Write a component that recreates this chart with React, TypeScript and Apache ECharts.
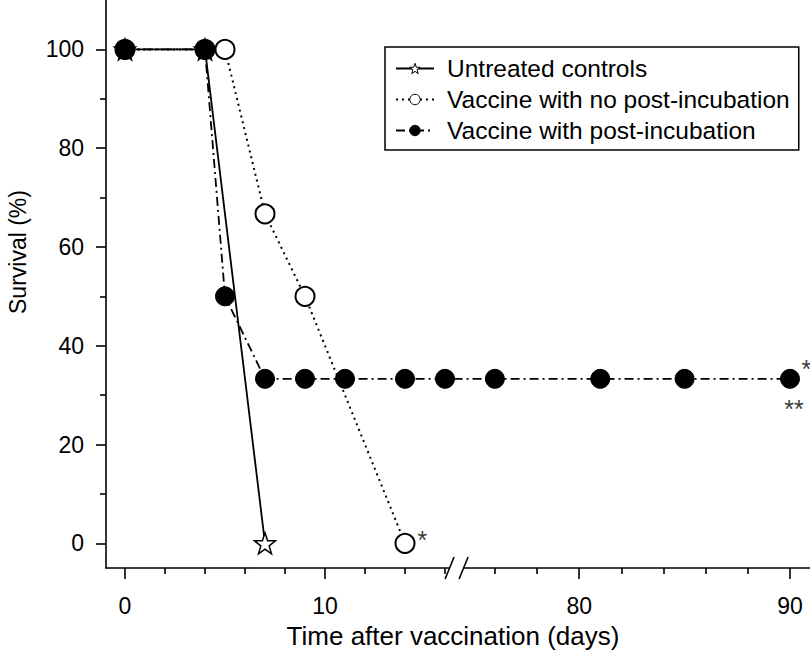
import React, { useEffect, useRef } from 'react';
import * as echarts from 'echarts';

const FONT = "'Liberation Sans', Arial, Helvetica, sans-serif";

const SERIES_NAMES = [
  'Untreated controls',
  'Vaccine with no post-incubation',
  'Vaccine with post-incubation',
];

// Days after vaccination and survival (%) per group
const untreatedDays = [0, 4, 7];
const untreatedSurvival = [100, 100, 0];

const noPostDays = [0, 4, 5, 7, 9, 14];
const noPostSurvival = [100, 100, 100, 66.7, 50, 0];

const postDays = [0, 4, 5, 7, 9, 11, 14, 16, 76, 81, 85, 90];
const postSurvival = [100, 100, 50, 33.3, 33.3, 33.3, 33.3, 33.3, 33.3, 33.3, 33.3, 33.3];

// Tick positions (days / %)
const xMajorTicks = [0, 10, 80, 90];
const xMinorTicks = [2, 4, 6, 8, 12, 14, 16, 76, 78, 82, 84, 86, 88];
const yMajorTicks = [0, 20, 40, 60, 80, 100];
const yMinorTicks = [10, 30, 50, 70, 90];

// Broken x axis: days 0..~16.5 then ~74..91 on one compressed scale
const RIGHT_ANCHOR_DAY = 90;
const RIGHT_ANCHOR_U = 33.25;
const RIGHT_SCALE = 1.054;
const toU = (d: number) => (d <= 30 ? d : RIGHT_ANCHOR_U - (RIGHT_ANCHOR_DAY - d) * RIGHT_SCALE);
const X_MIN = -0.95;
const X_MAX = 34.25;
const BREAK_U = 16.58;
const Y_MIN = -5;
const Y_MAX = 110;

const STAR =
  'path://M0,-1L0.235,-0.324L0.951,-0.309L0.380,0.124L0.588,0.809L0,0.4L-0.588,0.809L-0.380,0.124L-0.951,-0.309L-0.235,-0.324Z';

export default function App() {
  const ref = useRef<HTMLDivElement>(null);

  useEffect(() => {
    if (!ref.current) return;
    const chart = echarts.init(ref.current, null, { renderer: 'svg' });
    const pairs = (days: number[], vals: number[]) => days.map((d, i) => [toU(d), vals[i]]);
    const xLabel = (v: number) => {
      const d = xMajorTicks.find((t) => Math.abs(toU(t) - v) < 1e-6);
      return d === undefined ? '' : String(d);
    };
    const axisLine = { color: '#000', width: 1.6 };

    const option: any = {
      animation: false,
      textStyle: { fontFamily: FONT, color: '#000' },
      grid: { left: 106, right: 0, top: 0, bottom: 93 },
      xAxis: [
        {
          type: 'value',
          min: X_MIN,
          max: X_MAX,
          position: 'bottom',
          axisLine: { show: true, onZero: false, lineStyle: axisLine },
          axisTick: { show: true, customValues: xMajorTicks.map(toU), length: 11, lineStyle: axisLine },
          axisLabel: {
            show: true,
            customValues: xMajorTicks.map(toU),
            formatter: xLabel,
            margin: 26,
            fontSize: 23,
            color: '#000',
            fontFamily: FONT,
          },
          splitLine: { show: false },
          name: 'Time after vaccination (days)',
          nameLocation: 'middle',
          nameGap: 55,
          nameTextStyle: { fontSize: 26, color: '#000', fontFamily: FONT, padding: [0, 10, 0, 0] },
        },
        {
          type: 'value',
          min: X_MIN,
          max: X_MAX,
          position: 'bottom',
          axisLine: { show: false, onZero: false },
          axisTick: { show: true, customValues: xMinorTicks.map(toU), length: 6, lineStyle: axisLine },
          axisLabel: { show: false },
          splitLine: { show: false },
        },
      ],
      yAxis: [
        {
          type: 'value',
          min: Y_MIN,
          max: Y_MAX,
          position: 'left',
          axisLine: { show: true, onZero: false, lineStyle: axisLine },
          axisTick: { show: true, customValues: yMajorTicks, length: 10, lineStyle: axisLine },
          axisLabel: {
            show: true,
            customValues: yMajorTicks,
            margin: 22,
            fontSize: 23,
            color: '#000',
            fontFamily: FONT,
          },
          splitLine: { show: false },
        },
        {
          type: 'value',
          min: Y_MIN,
          max: Y_MAX,
          position: 'left',
          axisLine: { show: false, onZero: false },
          axisTick: { show: true, customValues: yMinorTicks, length: 6, lineStyle: axisLine },
          axisLabel: { show: false },
          splitLine: { show: false },
        },
      ],
      legend: {
        data: SERIES_NAMES,
        orient: 'vertical',
        left: 385,
        top: 47,
        padding: [9, 9, 7, 10],
        itemWidth: 38,
        itemHeight: 13,
        itemGap: 6,
        selectedMode: false,
        borderColor: '#000',
        borderWidth: 1.5,
        itemStyle: { borderWidth: 1 },
        textStyle: { fontSize: 24.5, color: '#000', fontFamily: FONT, padding: [0, 0, 0, 8] },
      },
      graphic: [
        {
          type: 'text',
          x: 18,
          y: 252,
          rotation: Math.PI / 2,
          style: {
            text: 'Survival (%)',
            fontSize: 23,
            fontFamily: FONT,
            fill: '#000',
            align: 'center',
            verticalAlign: 'middle',
          },
        },
      ],
      series: [
        {
          name: SERIES_NAMES[1],
          type: 'line',
          data: pairs(noPostDays, noPostSurvival),
          symbol: 'circle',
          symbolSize: 19,
          color: '#000',
          lineStyle: { color: '#000', width: 2, type: [2, 4] },
          itemStyle: { color: '#fff', borderColor: '#000', borderWidth: 2 },
          z: 2,
        },
        {
          name: SERIES_NAMES[0],
          type: 'line',
          data: pairs(untreatedDays, untreatedSurvival),
          symbol: STAR,
          symbolSize: 21,
          color: '#000',
          lineStyle: { color: '#000', width: 1.8, type: 'solid' },
          itemStyle: { color: '#fff', borderColor: '#000', borderWidth: 1.5 },
          z: 3,
        },
        {
          name: SERIES_NAMES[2],
          type: 'line',
          data: pairs(postDays, postSurvival),
          symbol: 'circle',
          symbolSize: 19,
          color: '#000',
          lineStyle: { color: '#000', width: 1.8, type: [9, 4, 2, 4] },
          itemStyle: { color: '#000', borderColor: '#000', borderWidth: 1 },
          z: 4,
        },
        {
          name: 'annotations',
          type: 'scatter',
          symbol: 'circle',
          symbolSize: 19,
          itemStyle: { color: 'rgba(0,0,0,0)' },
          silent: true,
          z: 5,
          label: { show: true, color: '#000', fontSize: 25, fontFamily: FONT },
          data: [
            { value: [toU(14), 0], label: { formatter: '*', position: 'right', distance: 3, offset: [0, -3] } },
            { value: [toU(90), 33.3], label: { formatter: '*', position: 'right', distance: 2, offset: [0, -10] } },
            { value: [toU(90), 33.3], label: { formatter: '**', position: 'bottom', distance: 8, offset: [4, 0] } },
          ],
        },
        {
          name: 'axis break',
          type: 'custom',
          silent: true,
          z: 6,
          data: [[BREAK_U, Y_MIN]],
          renderItem: (params: any, api: any) => {
            const p = api.coord([api.value(0), api.value(1)]);
            const gap = 14;
            const h = 11;
            const w = 4.5;
            return {
              type: 'group',
              children: [
                { type: 'rect', shape: { x: p[0] - gap / 2, y: p[1] - 3, width: gap, height: 6 }, style: { fill: '#fff' } },
                {
                  type: 'line',
                  shape: { x1: p[0] - gap / 2 - w, y1: p[1] + h, x2: p[0] - gap / 2 + w, y2: p[1] - h },
                  style: { stroke: '#000', lineWidth: 1.6 },
                },
                {
                  type: 'line',
                  shape: { x1: p[0] + gap / 2 - w, y1: p[1] + h, x2: p[0] + gap / 2 + w, y2: p[1] - h },
                  style: { stroke: '#000', lineWidth: 1.6 },
                },
              ],
            };
          },
        },
      ],
    };

    chart.setOption(option);
    return () => chart.dispose();
  }, []);

  return <div ref={ref} style={{ position: 'absolute', left: 0, top: 0, width: 810, height: 661 }} />;
}
